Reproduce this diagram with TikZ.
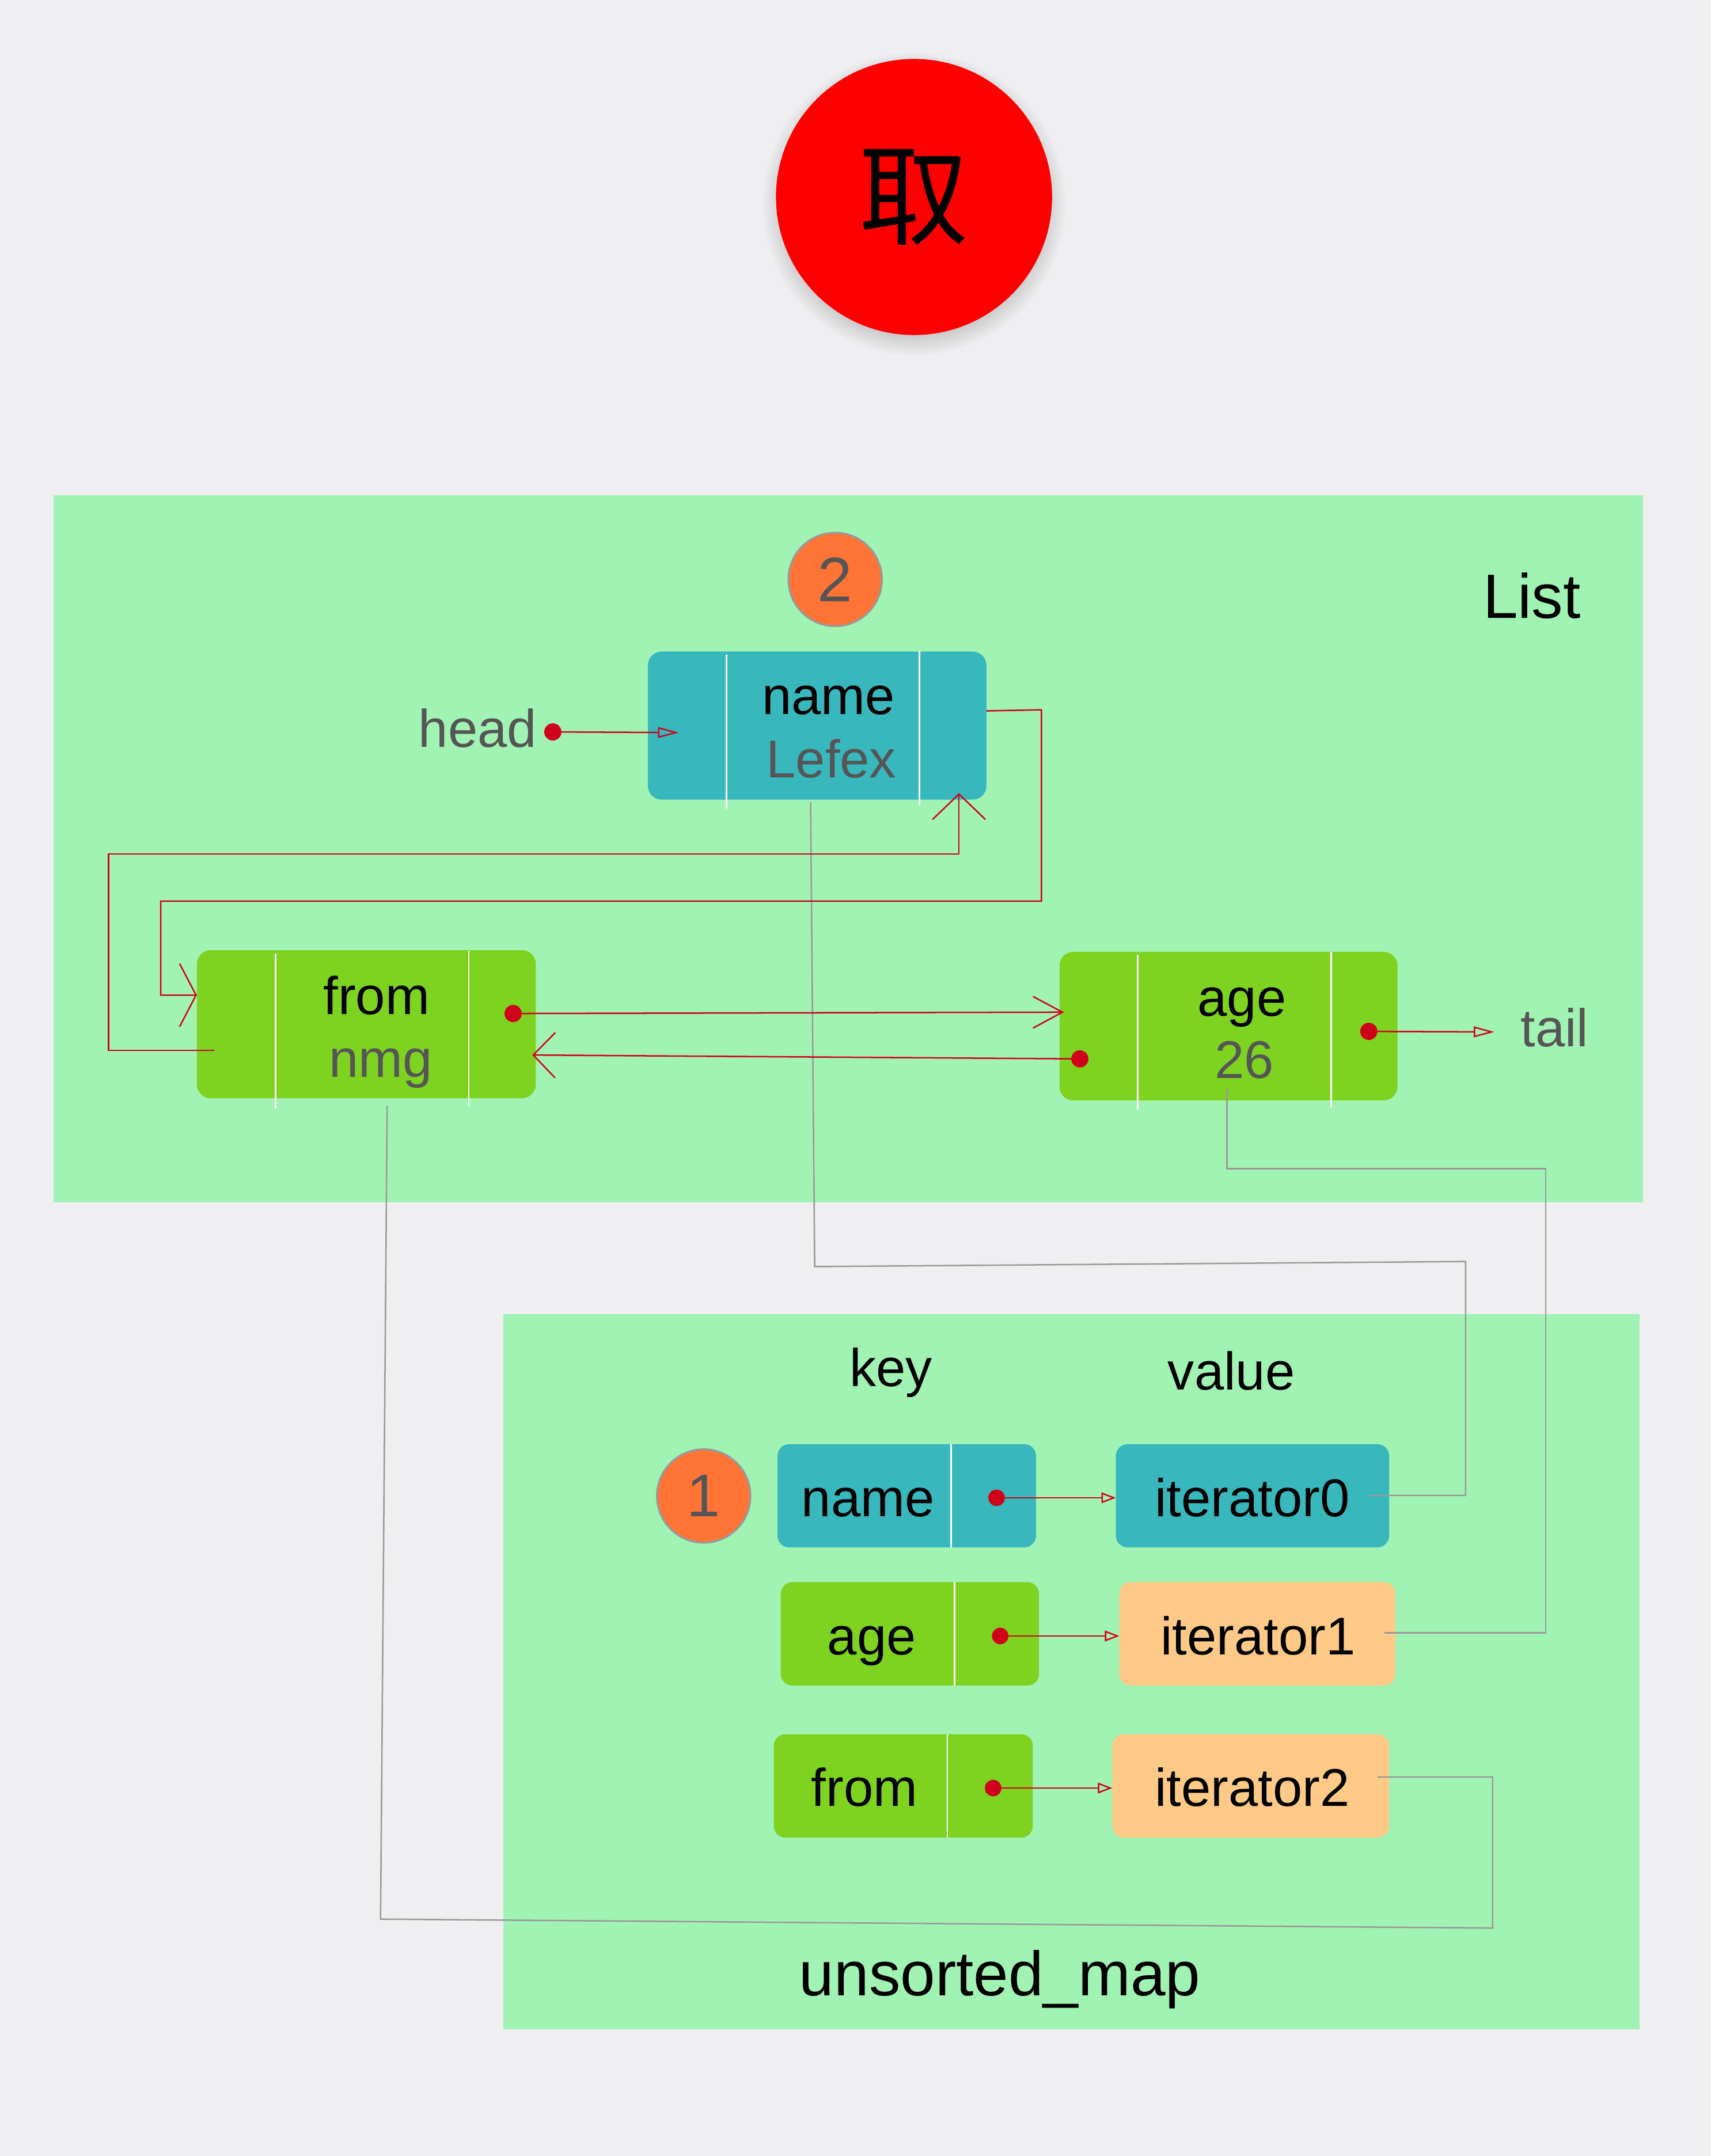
\documentclass[tikz,border=0pt]{standalone}
\usepackage{fontspec}
\setmainfont{Liberation Sans}
\newfontfamily\cjkfont{Noto Sans CJK SC}
\usetikzlibrary{arrows.meta,shadows,fadings,calc}
\definecolor{bgc}{HTML}{EFEFF1}
\definecolor{panelc}{HTML}{A1F3B4}
\definecolor{tealc}{HTML}{38B7BD}
\definecolor{grnc}{HTML}{7ED321}
\definecolor{peachc}{HTML}{FFCA88}
\definecolor{orngc}{HTML}{FF7435}
\definecolor{redc}{HTML}{D0021B}
\definecolor{grayc}{HTML}{999999}
\definecolor{txtgray}{HTML}{555555}
\newcommand\mkbox[6]{%
  \pgfmathsetmacro\bxw{(#5-#3)*0.02}%
  \pgfmathsetmacro\bxh{(#6-#4)*0.02}%
  \node[#1, minimum width=\bxw cm, minimum height=\bxh cm] (#2) at ({(#3+#5)/2},{(#4+#6)/2}) {};}
\begin{document}
\begin{tikzpicture}[x=0.02cm,y=-0.02cm,
  basebox/.style={rectangle, inner sep=0pt, outer sep=0pt, draw=none},
  panel/.style={basebox, fill=panelc},
  lbox/.style={basebox, rounded corners=0.2cm},
  mbox/.style={basebox, rounded corners=0.17cm},
  sepline/.style={draw=white, line width=0.6pt},
  redline/.style={draw=redc, line width=0.6pt},
  grayline/.style={draw=grayc, line width=0.6pt},
  reddot/.style={circle, fill=redc, inner sep=0pt, minimum size=0.25cm},
  lbl/.style={anchor=base, inner sep=0pt, font=\fontsize{22}{26}\selectfont},
  glbl/.style={lbl, text=txtgray},
  big/.style={anchor=base, inner sep=0pt, font=\fontsize{26}{30}\selectfont},
  numcirc/.style={circle, fill=orngc, draw=grayc, line width=0.8pt, inner sep=0pt, minimum size=1.36cm, text=txtgray},
  opentri/.style={-{Triangle[open,length=0.3cm,width=0.155cm]}},
  smalltri/.style={-{Triangle[open,length=0.21cm,width=0.155cm]}}
]
\useasboundingbox (0,0) rectangle (1245,1569.45);
\fill[bgc] (0,0) rectangle (1245,1569.45);

% top circle
\node[circle, fill=red, inner sep=0pt, minimum size=4.02cm,
      circular drop shadow={shadow xshift=0pt, shadow yshift=-2.5pt, opacity=0.35}]
  (top) at (665.3,143.4) {\cjkfont\fontsize{45.5}{46}\selectfont 取};

% panels
\mkbox{panel}{listp}{38.9}{360.7}{1195.8}{875.4}
\mkbox{panel}{mapp}{366.2}{956.4}{1193.3}{1477}

\node[big] (listlbl) at (1115,450.2) {List};
\node[big] (maplbl) at (727.8,1452.5) {unsorted\_map};
\node[lbl] (keylbl) at (648.6,1009.1) {key};
\node[lbl] (vallbl) at (896.3,1011.7) {value};

% number circles
\node[numcirc, font=\fontsize{26}{30}\selectfont] (c2) at (607.9,421.8) {2};
\node[numcirc, font=\fontsize{25}{30}\selectfont] (c1) at (512.2,1089) {1};

% list nodes
\mkbox{lbox, fill=tealc}{lname}{471.6}{474.3}{718}{582.1}
\mkbox{lbox, fill=grnc}{lfrom}{143.3}{691.7}{390}{799.4}
\mkbox{lbox, fill=grnc}{lage}{771.2}{692.9}{1017.2}{801}
\draw[sepline] (528.9,476.6) -- (528.9,588.6);
\draw[sepline] (669.3,473.5) -- (669.3,586);
\draw[sepline] (200.6,694) -- (200.6,807);
\draw[sepline] (341.3,692) -- (341.3,805.4);
\draw[sepline] (828,695) -- (828,807.6);
\draw[sepline] (969,693) -- (969,806);

\node[lbl] (tname) at (603,520) {name};
\node[glbl] (tlefex) at (605,566) {Lefex};
\node[lbl] (tfrom) at (274,738.6) {from};
\node[glbl] (tnmg) at (277,784) {nmg};
\node[lbl] (tage) at (904,739.8) {age};
\node[glbl] (t26) at (905.6,785) {26};
\node[glbl, anchor=base east] (thead) at (391,544) {head};
\node[glbl] (ttail) at (1131.6,762) {tail};

% map nodes
\mkbox{mbox, fill=tealc}{kname}{565.9}{1051.3}{754.1}{1126.4}
\mkbox{mbox, fill=tealc}{it0}{812.2}{1051.3}{1011.1}{1126.4}
\mkbox{mbox, fill=grnc}{kage}{568.3}{1151.7}{756.3}{1227}
\mkbox{mbox, fill=peachc}{it1}{814.7}{1151.7}{1015.6}{1227}
\mkbox{mbox, fill=grnc}{kfrom}{563.2}{1262.4}{751.8}{1337.7}
\mkbox{mbox, fill=peachc}{it2}{809.6}{1262.4}{1011.1}{1337.7}
\draw[sepline] (692.2,1051.3) -- (692.2,1126.4);
\draw[sepline] (694.7,1151.7) -- (694.7,1227);
\draw[sepline] (689.6,1262.4) -- (689.6,1337.7);

\node[lbl] (tkname) at (631.8,1104) {name};
\node[lbl] (tit0) at (911.4,1104) {iterator0};
\node[lbl] (tkage) at (634.6,1204.6) {age};
\node[lbl] (tit1) at (915.6,1204.6) {iterator1};
\node[lbl] (tkfrom) at (629.2,1314.8) {from};
\node[lbl] (tit2) at (911.4,1314.8) {iterator2};

% gray connectors
\coordinate (g1s) at (590,584);
\coordinate (g1e) at (995.8,1088.6);
\draw[grayline] (g1s) -- (593,922) -- (1066.8,918.3) -- (1066.8,1088.6) -- (g1e);
\coordinate (g2s) at (893,792.7);
\coordinate (g2e) at (1007.8,1188.7);
\draw[grayline] (g2s) -- (893,850.7) -- (1125,850.7) -- (1125,1188.7) -- (g2e);
\coordinate (g3s) at (281.8,805);
\coordinate (g3e) at (1002.6,1293.6);
\draw[grayline] (g3s) -- (277,1397) -- (1086.5,1403.5) -- (1086.5,1293.6) -- (g3e);

% red dots
\node[reddot] (dhead) at (402.4,532.8) {};
\node[reddot] (dtail) at (996.3,750.8) {};
\node[reddot] (dfrom) at (373.5,737.8) {};
\node[reddot] (dage) at (786,770.8) {};
\node[reddot, minimum size=0.24cm] (dk0) at (725.4,1090.3) {};
\node[reddot, minimum size=0.24cm] (dk1) at (728,1190.9) {};
\node[reddot, minimum size=0.24cm] (dk2) at (722.9,1301.6) {};

% red connectors
\coordinate (hend) at (494,533.3);
\coordinate (tend) at (1087.7,751.2);
\draw[redline, opentri] (dhead.center) -- (hend);
\draw[redline, opentri] (dtail.center) -- (tend);

\coordinate (r1s) at (718,517.5);
\coordinate (r1e) at (143.3,724.4);
\draw[redline, -{Straight Barb[length=0.24cm,width=0.92cm]}]
  (r1s) -- (758,516.7) -- (758,656) -- (117,656) -- (117,724.4) -- (r1e);
\coordinate (r2s) at (156,764.6);
\coordinate (r2e) at (698,577.3);
\draw[redline, -{Straight Barb[length=0.37cm,width=0.77cm]}]
  (r2s) -- (79,764.6) -- (79,621.7) -- (698,621.7) -- (r2e);
\coordinate (r3e) at (774.5,736.8);
\draw[redline, -{Straight Barb[length=0.43cm,width=0.46cm]}] (dfrom.center) -- (r3e);
\coordinate (r4e) at (387.4,768);
\draw[redline, -{Straight Barb[length=0.32cm,width=0.66cm]}] (dage.center) -- (r4e);

\draw[redline, smalltri] (dk0.center) -- (it0.west |- dk0);
\draw[redline, smalltri] (dk1.center) -- (it1.west |- dk1);
\draw[redline, smalltri] (dk2.center) -- (it2.west |- dk2);
\end{tikzpicture}
\end{document}
